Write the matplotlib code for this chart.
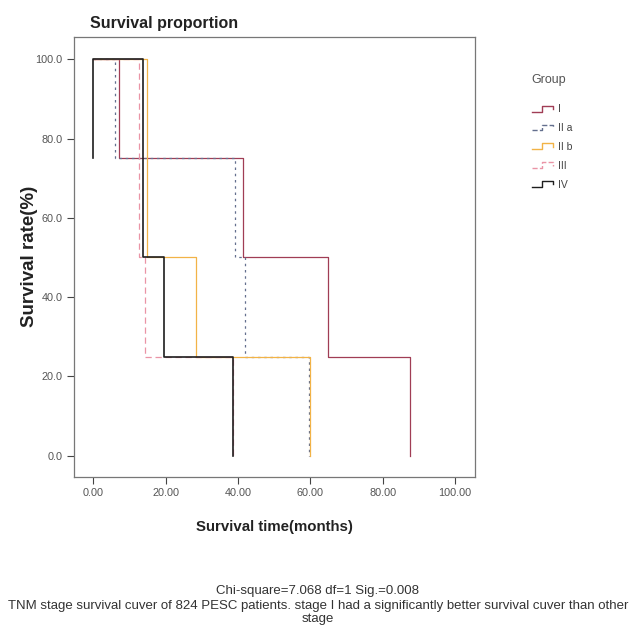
import matplotlib
matplotlib.use("Agg")
import matplotlib.pyplot as plt
from matplotlib.legend_handler import HandlerBase
from matplotlib.lines import Line2D

# Kaplan-Meier step data (time in months, survival in %)
groups = ["I", "II a", "II b", "III", "IV"]
times = {
    "I":    [0, 7.2, 41.3, 65.0, 87.4],
    "II a": [0, 6.0, 39.2, 41.8, 59.5],
    "II b": [0, 14.9, 28.3, 59.9],
    "III":  [0, 12.6, 14.3, 38.7],
    "IV":   [0, 0, 13.8, 19.4, 38.7],
}
survival = {
    "I":    [100, 75, 50, 25, 0],
    "II a": [100, 75, 50, 25, 0],
    "II b": [100, 50, 25, 0],
    "III":  [100, 50, 25, 0],
    "IV":   [75, 100, 50, 25, 0],
}
x_ticks = [0, 20, 40, 60, 80, 100]
y_ticks = [0, 20, 40, 60, 80, 100]

styles = {
    "I":    dict(color="#a03d55", lw=0.9, ls="-"),
    "II a": dict(color="#636f8e", lw=0.9, ls=(0, (2, 3))),
    "II b": dict(color="#f2b347", lw=0.9, ls="-"),
    "III":  dict(color="#ea94a6", lw=0.9, ls=(0, (5, 3))),
    "IV":   dict(color="#1e1e1e", lw=1.2, ls="-"),
}


class StepHandler(HandlerBase):
    """Little step icon like the SPSS legend."""
    def create_artists(self, legend, orig_handle, xdescent, ydescent,
                       width, height, fontsize, trans):
        xs = [0, 0.45 * width, 0.45 * width, width, width]
        ys = [0.1 * height, 0.1 * height, 0.9 * height, 0.9 * height, 0.45 * height]
        ln = Line2D([x - xdescent for x in xs], [y - ydescent for y in ys],
                    color=orig_handle.get_color(), lw=1.0,
                    linestyle=orig_handle.get_linestyle(), transform=trans)
        return [ln]


plt.rcParams['font.family'] = ['Liberation Sans', 'DejaVu Sans']
fig = plt.figure(figsize=(6.36, 6.37), dpi=100)
ax = fig.add_axes([0.1156, 0.2517, 0.6312, 0.6907])

handles = []
for g in groups:
    h, = ax.step(times[g], survival[g], where="post", label=g, **styles[g])
    handles.append(h)

ax.set_xlim(-5.5, 105.5)
ax.set_ylim(-5.3, 105.7)
ax.set_xticks(x_ticks)
ax.set_yticks(y_ticks)
ax.set_xticklabels([f"{v:.2f}" for v in x_ticks])
ax.set_yticklabels([f"{v:.1f}" for v in y_ticks])
ax.tick_params(axis="both", length=5, width=0.8, color="#444444",
               labelsize=7.8, labelcolor="#555555", pad=3)
for s in ax.spines.values():
    s.set_color("#777777")
    s.set_linewidth(0.9)

ax.set_title("Survival proportion", loc="left", fontsize=11.5, fontweight="bold",
             color="#222222", x=0.04, pad=6)
ax.set_xlabel("Survival time(months)", fontsize=10.8, fontweight="bold",
              color="#222222", labelpad=16)
ax.set_ylabel("Survival rate(%)", fontsize=13.5, fontweight="bold",
              color="#222222")
ax.yaxis.set_label_coords(-0.089, 0.5)

# legend title drawn separately so the gap to the entries can match
fig.text(0.836, 0.874, "Group", fontsize=9, color="#555555", va="center")
leg = fig.legend(handles, groups, loc="upper left", bbox_to_anchor=(0.822, 0.851),
                 frameon=False, fontsize=7.5,
                 handler_map={Line2D: StepHandler()}, handlelength=2.0,
                 handletextpad=0.5, labelspacing=0.85)
for t in leg.get_texts():
    t.set_color("#444444")

fig.text(0.5, 0.072, "Chi-square=7.068 df=1 Sig.=0.008", ha="center", va="center",
         fontsize=9.5, color="#333333")
fig.text(0.5, 0.049, "TNM stage survival cuver of 824 PESC patients. stage I had a "
         "significantly better survival cuver than other", ha="center", va="center",
         fontsize=9.5, color="#333333")
fig.text(0.5, 0.029, "stage", ha="center", va="center", fontsize=9.5, color="#333333")

fig.savefig("out.png", dpi=100, facecolor="white")
